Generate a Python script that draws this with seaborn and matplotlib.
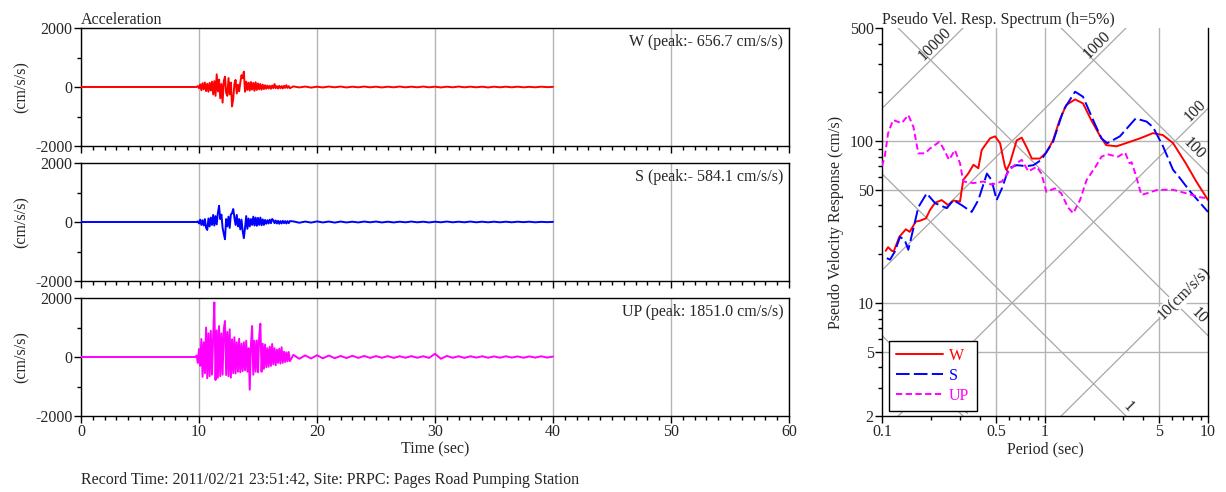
import numpy as np
import pandas as pd
import matplotlib
matplotlib.use("Agg")
import matplotlib.pyplot as plt
from matplotlib.ticker import FixedLocator, NullFormatter
import seaborn as sns

# ---------------- accelerograms (cm/s/s) ----------------
channels = ["W", "S", "UP"]
colors = {"W": "#ff0000", "S": "#0000ff", "UP": "#ff00ff"}

pre_time = [0.0, 9.7]
pre_acc = [0.0, 0.0]

strong_start, strong_step = 9.8, 0.1
tail_start, tail_step = 18.0, 0.5

w_strong = [0, 30, -40, 90, -110, 130, -80, 150, -140, 110,
            -160, 140, -120, 180, -250, 200, -300, 430, -150, 250,
            -380, 100, -530, 200, 350, -200, -300, 300, -250, 150,
            -656.7, -400, 100, 240, -220, 80, -150, 150, 400, 300,
            520, -160, 180, -100, 150, -120, 170, -90, 140, -130,
            160, -100, 120, -80, 100, -90, 80, -70, 60, -60,
            50, -50, 40, -60, 50, -40, 100, -40, 30, -50,
            40, -40, 30, -50, 40, -30, 60, -30, 30, -40]
w_tail = [20, -15, 15, -20, 10, -15, 15, -10, 15, -15, 10, -10, 15, -10, 10,
          -15, 10, -10, 15, -10, 10, -10, 15, -10, 10, -15, 10, -10, 15, -10,
          10, -10, 10, -15, 10, -10, 10, -10, 10, -10, 5, -10, 10, -5, 5]

s_strong = [0, 20, -50, 80, -100, 60, -120, 100, -200, -270,
            120, -150, 150, -100, 240, -120, 200, -80, 300, 550,
            100, 250, -200, -400, -584.1, 100, -150, 180, -200, 250,
            300, 440, 150, -100, 240, -150, 100, -250, 80, -300,
            -550, -200, 200, -230, 120, -150, 100, -100, 180, -120,
            150, -130, 140, -100, 150, -110, 90, -100, 70, -60,
            60, -50, 80, -40, 100, 60, -40, 50, -50, 40,
            -60, 30, -50, 40, -40, 30, -50, 30, -40, 30]
s_tail = [20, -25, 15, -20, 20, -15, 15, -20, 15, -15, 10, -15, 15, -10, 15,
          -15, 10, -15, 10, -10, 15, -10, 10, -15, 10, -10, 15, -10, 10, -10,
          15, -10, 10, -10, 10, -10, 10, -10, 10, -5, 10, -10, 5, -5, 5]

up_strong = [50, -200, 270, -300, 610, -670, 500, -550, 1000, -720,
             800, -650, 890, -600, 700, 1851.0, -780, 900, -700, 1050,
             -650, 800, -600, 950, 1220, -610, 850, -650, 940, -700,
             600, -550, 670, -560, 500, -500, 620, -520, 450, -480,
             500, -450, 550, -500, 300, -1110, 400, 1050, -600, 550,
             -500, 560, -520, 700, 1130, -500, 450, -400, 420, -350,
             300, -330, 350, -300, 440, -250, 300, -280, 250, -200,
             280, -220, 330, -200, 180, -170, 160, -150, 170, -140]
up_tail = [70, -60, 55, -50, 60, -45, 50, -40, 35, -35, 40, -30, 35, -30, 30,
           -25, 30, -30, 25, -25, 30, -25, 25, -30, 110, -60, 35, -25, 25, -30,
           25, -20, 25, -25, 20, -25, 25, -20, 20, -25, 20, -20, 25, -20, 15]

records = {"W": (w_strong, w_tail), "S": (s_strong, s_tail), "UP": (up_strong, up_tail)}

# ---------------- pseudo velocity response spectra ----------------
w_period = [0.1054, 0.109, 0.1147, 0.118, 0.1277, 0.140, 0.148, 0.161, 0.171, 0.186,
            0.197, 0.212, 0.232, 0.255, 0.274, 0.301, 0.315, 0.339, 0.364, 0.390,
            0.409, 0.46, 0.494, 0.53, 0.568, 0.581, 0.609, 0.67, 0.72, 0.77,
            0.83, 0.93, 1.02, 1.12, 1.23, 1.35, 1.53, 1.71, 1.92, 2.16,
            2.37, 2.75, 3.16, 3.83, 4.6, 5.28, 6.1, 7.3, 8.5, 10.0]
w_pv = [21.0, 22.1, 21.0, 20.8, 25.6, 28.5, 27.5, 31.8, 32.2, 33.3,
        37.5, 41.6, 43.2, 40.2, 42.9, 42.3, 57.5, 63.3, 71.4, 68.0,
        88.1, 104, 107, 97, 69.5, 66.1, 72.9, 101, 105, 92,
        78, 78, 85, 101, 135, 167, 181, 171, 135, 109,
        94.4, 92.9, 97.3, 104, 112, 109, 97.3, 73, 56, 43.3]

s_period = [0.107, 0.112, 0.120, 0.129, 0.138, 0.145, 0.156, 0.167, 0.188, 0.212,
            0.250, 0.274, 0.308, 0.355, 0.39, 0.44, 0.47, 0.505, 0.544, 0.6,
            0.67, 0.77, 0.85, 0.95, 1.12, 1.3, 1.53, 1.71, 2.02, 2.22,
            2.41, 2.88, 3.6, 4.2, 4.6, 5.3, 6.1, 6.6, 7.8, 10.0]
s_pv = [18.9, 18.5, 20.8, 25.6, 24.4, 21.3, 29.0, 39.0, 47.5, 41.3,
        38.5, 43.2, 40.2, 36.5, 43.2, 63.0, 57.5, 43.2, 51.0, 68.0,
        71.0, 70.0, 71.0, 76.6, 99.0, 156, 202, 188, 128, 104,
        97.0, 107, 138, 132, 122, 92.7, 66.5, 60.5, 48.6, 36.5]

up_period = [0.1, 0.104, 0.109, 0.117, 0.132, 0.145, 0.156, 0.167, 0.184, 0.197,
             0.225, 0.238, 0.258, 0.28, 0.301, 0.315, 0.364, 0.418, 0.47, 0.544,
             0.609, 0.67, 0.72, 0.79, 0.89, 0.95, 1.02, 1.15, 1.26, 1.38,
             1.49, 1.64, 1.8, 2.07, 2.22, 2.41, 2.8, 3.1, 3.3, 3.4,
             3.6, 3.9, 4.2, 4.9, 6.1, 7.4, 8.9, 10.0]
up_pv = [70, 80.4, 112, 135, 129, 145, 122, 84, 84, 90,
         99, 90, 76.6, 88, 73, 56.3, 55, 56.3, 53.8, 56.3,
         66.5, 73, 76.6, 65, 69.4, 63, 48.6, 51, 47.5, 39,
         35.8, 43.2, 57.5, 71, 80, 83, 80, 85, 73, 74,
         62, 46.5, 47.5, 50, 50, 47.5, 45, 44.3]

spectra = {"W": (w_period, w_pv), "S": (s_period, s_pv), "UP": (up_period, up_pv)}
spec_dashes = {"W": None, "S": (7, 2.2), "UP": (3.2, 1.8)}

# constant acceleration (cm/s/s) and displacement (cm) guide lines
accel_levels = [10, 100, 1000, 10000]
accel_labels = ["10(cm/s/s)", "100", "1000", "10000"]
accel_label_period = [7.2, 9.0, 2.27, 0.23]
disp_levels = [0.1, 1, 10, 100]
disp_labels = ["0.1", "1", "10", "100"]
disp_label_period = [0.29, 3.0, 8.2, 7.6]

record_note = "Record Time: 2011/02/21 23:51:42, Site: PRPC: Pages Road Pumping Station"

# ---------------- style ----------------
sns.set_theme(style="white")
plt.rcParams["font.family"] = ["Liberation Serif", "DejaVu Serif"]
plt.rcParams["axes.unicode_minus"] = False
FS = 11.5
GRID = "#b4b4b4"
DIAG = "#a8a8a8"

fig = plt.figure(figsize=(12.26, 4.92), dpi=100)
W_PX, H_PX = 1226, 492


def frac_box(x0, y_top, x1, y_bot):
    return [x0 / W_PX, 1 - y_bot / H_PX, (x1 - x0) / W_PX, (y_bot - y_top) / H_PX]


panel_tops = [28, 163, 298]
acc_axes = []
for i, ch in enumerate(channels):
    top = panel_tops[i]
    ax = fig.add_axes(frac_box(81, top, 789, top + 118))
    strong, tail = records[ch]
    t = np.concatenate([pre_time,
                        strong_start + strong_step * np.arange(len(strong)),
                        tail_start + tail_step * np.arange(len(tail))])
    a = np.concatenate([pre_acc, strong, tail])
    df = pd.DataFrame({"time": t, "acc": a})
    sns.lineplot(data=df, x="time", y="acc", ax=ax, color=colors[ch], lw=1.4,
                 estimator=None, sort=False, zorder=3)
    ax.set_xlim(0, 60)
    ax.set_ylim(-2000, 2000)
    ax.xaxis.set_major_locator(FixedLocator(np.arange(0, 61, 10)))
    ax.xaxis.set_minor_locator(FixedLocator(np.arange(0, 61, 1)))
    ax.yaxis.set_major_locator(FixedLocator([-2000, 0, 2000]))
    ax.yaxis.set_minor_locator(FixedLocator([-1000, 1000]))
    ax.grid(True, axis="x", which="major", color=GRID, lw=1.0, zorder=1)
    ax.tick_params(axis="both", which="major", direction="out", length=5, width=1,
                   labelsize=FS, color="black", bottom=True, left=True, pad=1)
    ax.tick_params(axis="both", which="minor", direction="out", length=3, width=1,
                   color="black", bottom=True, left=True)
    for sp in ax.spines.values():
        sp.set_color("black")
        sp.set_linewidth(1.0)
    ax.set_ylabel("(cm/s/s)", fontsize=FS, labelpad=4)
    if i < 2:
        ax.set_xticklabels([])
        ax.set_xlabel("")
    else:
        ax.set_xlabel("Time (sec)", fontsize=FS, labelpad=1)
    idx = int(np.argmax(np.abs(a)))
    peak = a[idx]
    sign = "- " if peak < 0 else " "
    ax.text(0.992, 0.88, f"{ch} (peak:{sign}{abs(peak):.1f} cm/s/s)",
            transform=ax.transAxes, ha="right", va="center", fontsize=FS)
    acc_axes.append(ax)

acc_axes[0].set_title("Acceleration", loc="left", fontsize=FS, pad=2)
fig.text(81 / W_PX, 1 - 480 / H_PX, record_note, ha="left", va="center", fontsize=FS)

# ---------------- tripartite spectrum ----------------
sp_ax = fig.add_axes(frac_box(882, 28, 1208, 416))
sp_ax.set_xscale("log")
sp_ax.set_yscale("log")
sp_ax.set_xlim(0.1, 10)
sp_ax.set_ylim(2, 500)

for x in [0.5, 1, 5]:
    sp_ax.axvline(x, color=GRID, lw=1.0, zorder=1)
for y in [5, 10, 50, 100]:
    sp_ax.axhline(y, color=GRID, lw=1.0, zorder=1)

T_line = np.geomspace(0.1, 10, 60)
for A in accel_levels:
    sp_ax.plot(T_line, A * T_line / (2 * np.pi), color=DIAG, lw=0.9, zorder=1)
for D in disp_levels:
    sp_ax.plot(T_line, 2 * np.pi * D / T_line, color=DIAG, lw=0.9, zorder=1)

for A, lab, Tp in zip(accel_levels, accel_labels, accel_label_period):
    va = "center" if A == 10 else "bottom"
    sp_ax.text(Tp, A * Tp / (2 * np.pi), lab, rotation=45, rotation_mode="anchor",
               ha="center", va=va, fontsize=FS, zorder=2,
               bbox=dict(facecolor="white", edgecolor="none", pad=0.3) if A == 10 else None)
for D, lab, Tp in zip(disp_levels, disp_labels, disp_label_period):
    sp_ax.text(Tp, 2 * np.pi * D / Tp, lab, rotation=-45, rotation_mode="anchor",
               ha="center", va="bottom", fontsize=FS, zorder=2)

handles = []
for ch in channels:
    per, pv = spectra[ch]
    sns.lineplot(x=per, y=pv, ax=sp_ax, color=colors[ch], lw=1.4,
                 estimator=None, sort=False, zorder=4)
    ln = sp_ax.lines[-1]
    if spec_dashes[ch] is not None:
        ln.set_dashes(spec_dashes[ch])
    ln.set_label(ch)
    handles.append(ln)

sp_ax.yaxis.set_major_locator(FixedLocator([2, 5, 10, 50, 100, 500]))
sp_ax.yaxis.set_minor_locator(FixedLocator([3, 4, 6, 7, 8, 9, 20, 30, 40, 60, 70, 80, 90,
                                            200, 300, 400]))
sp_ax.xaxis.set_major_locator(FixedLocator([0.1, 0.5, 1, 5, 10]))
sp_ax.xaxis.set_minor_locator(FixedLocator([0.2, 0.3, 0.4, 0.6, 0.7, 0.8, 0.9,
                                            2, 3, 4, 6, 7, 8, 9]))
sp_ax.set_yticklabels(["2", "5", "10", "50", "100", "500"])
sp_ax.set_xticklabels(["0.1", "0.5", "1", "5", "10"])
sp_ax.yaxis.set_minor_formatter(NullFormatter())
sp_ax.xaxis.set_minor_formatter(NullFormatter())
sp_ax.tick_params(axis="both", which="major", direction="out", length=5, width=1,
                  labelsize=FS, color="black", bottom=True, left=True, pad=1)
sp_ax.tick_params(axis="both", which="minor", direction="out", length=3, width=1,
                  color="black", bottom=True, left=True)
for name, sp in sp_ax.spines.items():
    sp.set_color("black")
    sp.set_linewidth(1.0)
sp_ax.spines["top"].set_visible(False)
sp_ax.set_xlabel("Period (sec)", fontsize=FS, labelpad=1)
sp_ax.set_ylabel("Pseudo Velocity Response (cm/s)", fontsize=FS, labelpad=4)
sp_ax.set_title("Pseudo Vel. Resp. Spectrum (h=5%)", loc="left", fontsize=FS, pad=2)

leg = sp_ax.legend(handles=handles, labels=channels, loc="lower left",
                   bbox_to_anchor=(0.02, 0.013), borderaxespad=0, fontsize=FS,
                   frameon=True, fancybox=False, framealpha=1, edgecolor="black",
                   handlelength=2.95, handletextpad=0.4, labelspacing=0.25,
                   borderpad=0.45)
leg.get_frame().set_linewidth(1.0)
leg.set_zorder(10)
for txt, ch in zip(leg.get_texts(), channels):
    txt.set_color(colors[ch])

fig.savefig("out.png", dpi=100)
